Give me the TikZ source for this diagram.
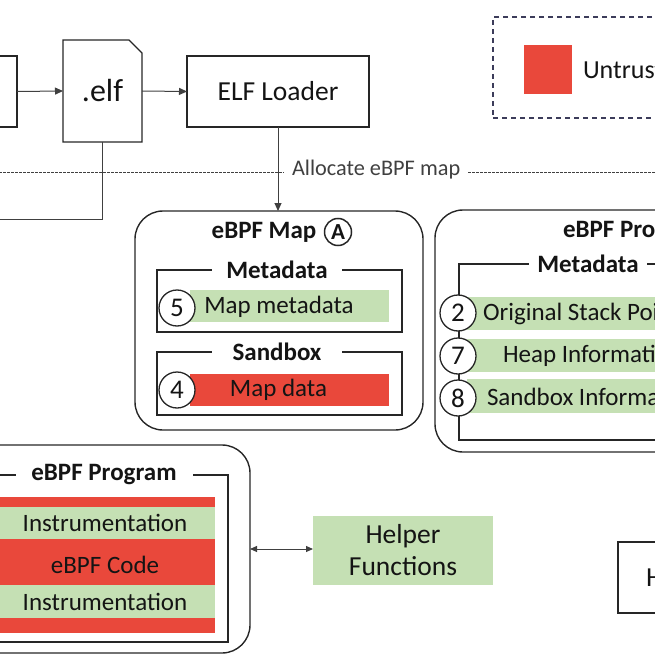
\documentclass[tikz,border=0pt]{standalone}
\usepackage{fontspec}
\setmainfont{Carlito}
\usetikzlibrary{arrows.meta,calc}
\definecolor{ured}{HTML}{E9483B}
\definecolor{tgreen}{HTML}{C5E0B4}
\definecolor{lin}{HTML}{262626}
\definecolor{conn}{HTML}{404040}
\definecolor{legd}{HTML}{3C3C5A}
\newcommand{\fs}[1]{\fontsize{#1}{\fpeval{#1*1.2}}\selectfont}
\begin{document}
\begin{tikzpicture}[x=1pt,y=-1pt,
  every node/.style={inner sep=0pt, outer sep=0pt, text=black!92},
  sqbox/.style={draw=lin, line width=1.4pt, rectangle},
  rbox/.style={draw=lin, line width=1.4pt, rectangle, rounded corners=28pt},
  ttl/.style={fill=white, font=\fs{25}\bfseries},
  gbar/.style={fill=tgreen, draw=none},
  rbar/.style={fill=ured, draw=none},
  num/.style={circle, draw=lin, line width=1.3pt, fill=white, minimum size=36pt, font=\fs{27}},
  txt/.style={font=\fs{25}},
  conline/.style={draw=conn, line width=1pt},
  tip/.style={-{Triangle[length=8pt,width=7pt]}},
]
\useasboundingbox (0,0) rectangle (655,655);

% top row
\node[sqbox, minimum width=117pt, minimum height=71pt] (src) at (-41.5,91.5) {};
\node[minimum width=79pt, minimum height=102pt, font=\fs{32}] (elf) at (102.5,91) {.elf};
\draw[lin, line width=1.4pt] (elf.south west) -- (elf.north west) -- ($(elf.north east)+(-13,0)$) -- ($(elf.north east)+(0,13)$) -- (elf.south east) -- cycle;
\node[sqbox, minimum width=182pt, minimum height=71pt, font=\fs{27.5}] (loader) at (278,91.5) {ELF Loader};
\draw[conline, tip] (src.east) -- (elf.west);
\draw[conline, tip] (elf.east) -- (loader.west);
\coordinate (elfout) at (-10,219);
\draw[conline] (elf.south) |- (elfout);

% dotted line with label
\coordinate (dl) at (-5,172);
\coordinate (dr) at (660,172);
\node[anchor=west, inner xsep=8pt, font=\fs{22.3}, text=black!75] (alloc) at (284,170) {Allocate eBPF map};
\draw[draw=conn, line width=0.8pt, dash pattern=on 2.5pt off 1.5pt] (dl) -- (dl -| alloc.west);
\draw[draw=conn, line width=0.8pt, dash pattern=on 2.5pt off 1.5pt] (dr -| alloc.east) -- (dr);

% legend
\node[draw=legd, line width=1.2pt, dash pattern=on 5pt off 4pt, minimum width=227pt, minimum height=101pt] (legend) at (606.5,67.5) {};
\node[rbar, minimum width=48pt, minimum height=49pt] (legred) at (548,69.5) {};
\node[anchor=west, font=\fs{26}] (legtxt) at (583,70) {Untrusted};

% eBPF Map box
\node[rbox, minimum width=288pt, minimum height=219pt] (map) at (279,320.5) {};
\draw[conline, tip] (loader.south) -- (loader.south |- map.north);
\node[font=\fs{25}\bfseries] (maptitle) at (264,232) {eBPF Map};
\node[circle, draw=lin, line width=1.5pt, minimum size=27pt, font=\fs{23}\bfseries] (circA) at (338,232) {A};

\node[sqbox, minimum width=245pt, minimum height=62pt] (mmeta) at (279.5,301) {};
\node[ttl, minimum width=130pt, minimum height=26pt] (mmetat) at (277,270) {Metadata};
\node[gbar, minimum width=199pt, minimum height=32pt] (mmbar) at (289.5,306) {};
\node[txt] (mmtxt) at (279,307) {Map metadata};
\node[num] (n5) at (177,308) {5};

\node[sqbox, minimum width=245pt, minimum height=63pt] (msand) at (279.5,383.5) {};
\node[ttl, minimum width=130pt, minimum height=26pt] (msandt) at (277,352) {Sandbox};
\node[rbar, minimum width=199pt, minimum height=32pt] (mdbar) at (289.5,390) {};
\node[txt] (mdtxt) at (278.5,390) {Map data};
\node[num] (n4) at (177,390) {4};

% right eBPF Program box
\node[rbox, minimum width=285pt, minimum height=242pt] (rprog) at (577.5,331) {};
\node[anchor=west, font=\fs{25}\bfseries] (rprogt) at (563,232) {eBPF Program};
\node[sqbox, minimum width=261pt, minimum height=176pt] (rmeta) at (589.5,352) {};
\node[ttl, minimum width=118pt, minimum height=26pt] (rmetat) at (588,264) {Metadata};
\node[gbar, minimum width=253pt, minimum height=33pt] (rb1) at (593.5,313.5) {};
\node[gbar, minimum width=253pt, minimum height=33pt] (rb2) at (593.5,355) {};
\node[gbar, minimum width=253pt, minimum height=34pt] (rb3) at (593.5,395.5) {};
\node[txt, anchor=west] (rt1) at (483,314) {Original Stack Pointer};
\node[txt, anchor=west] (rt2) at (503,356) {Heap Information};
\node[txt, anchor=west] (rt3) at (487,397) {Sandbox Information};
\node[num] (n2) at (458,313) {2};
\node[num] (n7) at (458,356) {7};
\node[num] (n8) at (458,398) {8};

% lower eBPF Program box
\node[rbox, minimum width=290pt, minimum height=208pt] (lprog) at (105,549) {};
\node[sqbox, minimum width=248pt, minimum height=167pt] (linner) at (104,558.5) {};
\node[ttl, minimum width=177pt, minimum height=26pt] (linnert) at (104,475) {eBPF Program};
\node[rbar, minimum width=235pt, minimum height=10pt] (s1) at (97.5,502) {};
\node[gbar, minimum width=235pt, minimum height=32pt] (s2) at (97.5,523) {};
\node[rbar, minimum width=235pt, minimum height=46pt] (s3) at (97.5,562) {};
\node[gbar, minimum width=235pt, minimum height=33pt] (s4) at (97.5,601.5) {};
\node[rbar, minimum width=235pt, minimum height=15pt] (s5) at (97.5,625.5) {};
\node[txt] (t2) at (105,523) {Instrumentation};
\node[txt] (t3) at (105,565) {eBPF Code};
\node[txt] (t4) at (105,602) {Instrumentation};

% helper functions
\node[gbar, minimum width=180pt, minimum height=69pt, font=\fs{27.5}, align=center] (helper) at (403,550.5) {Helper\\[-1pt]Functions};
\draw[conline, {Triangle[length=7pt,width=6pt]}-{Triangle[length=7pt,width=6pt]}] (lprog.east) -- (lprog.east -| helper.west);

% right lower box
\node[sqbox, minimum width=102pt, minimum height=71pt] (hbox) at (669,577.5) {};
\node[anchor=west, font=\fs{27.5}] (htxt) at (646,578) {H};
\end{tikzpicture}
\end{document}
